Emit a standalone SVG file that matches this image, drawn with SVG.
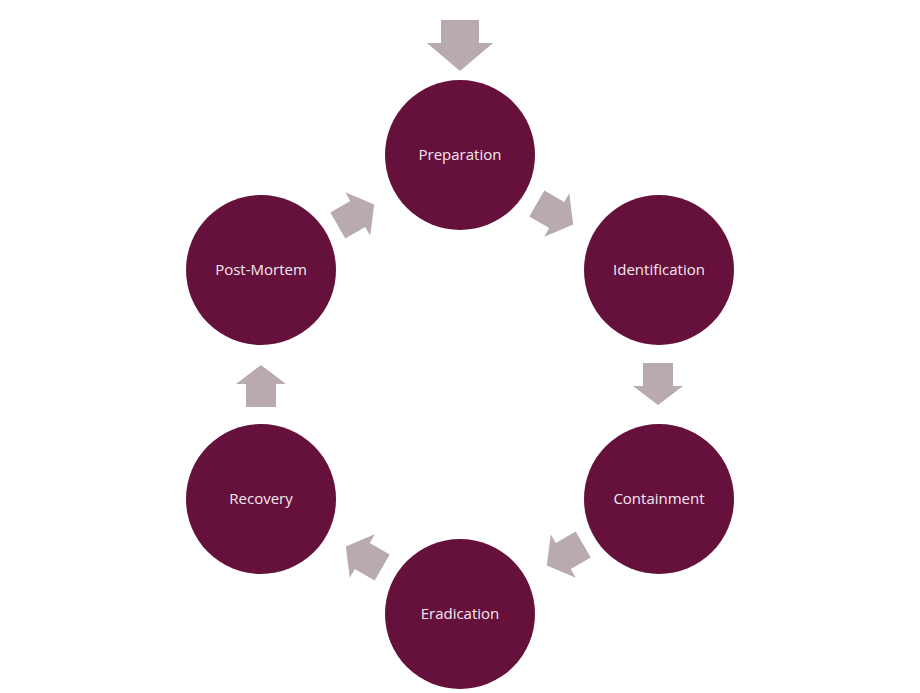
<svg xmlns="http://www.w3.org/2000/svg" width="920" height="693" viewBox="0 0 920 693">
<style>
.n{fill:#66103C}
.t{font-family:"Open Sans","Liberation Sans",sans-serif;font-size:15px;fill:#F5E9F0;text-anchor:middle;dominant-baseline:central}
.a{fill:#B9A9B1}
</style>
<defs>
<polygon id="arr" points="-21,-15 2,-15 2,-25 21,0 2,25 2,15 -21,15"/>
</defs>
<rect width="920" height="693" fill="#FFFFFF"/>
<g id="connectors" class="a">
<polygon points="441,20 479,20 479,43 493,43 460,71 427,43 441,43"/>
<use href="#arr" transform="translate(555,214) rotate(30)"/>
<use href="#arr" transform="translate(658,384) rotate(90)"/>
<use href="#arr" transform="translate(565,555) rotate(150)"/>
<use href="#arr" transform="translate(364,557) rotate(210)"/>
<use href="#arr" transform="translate(261,386) rotate(-90)"/>
<use href="#arr" transform="translate(356,215) rotate(-30)"/>
</g>
<g id="preparation"><circle class="n" cx="460" cy="155" r="75"/><text class="t" x="460" y="154">Preparation</text></g>
<g id="identification"><circle class="n" cx="659" cy="270" r="75"/><text class="t" x="659" y="269">Identification</text></g>
<g id="containment"><circle class="n" cx="659" cy="499" r="75"/><text class="t" x="659" y="498">Containment</text></g>
<g id="eradication"><circle class="n" cx="460" cy="614" r="75"/><text class="t" x="460" y="613">Eradication</text></g>
<g id="recovery"><circle class="n" cx="261" cy="499" r="75"/><text class="t" x="261" y="498">Recovery</text></g>
<g id="post-mortem"><circle class="n" cx="261" cy="270" r="75"/><text class="t" x="261" y="269">Post-Mortem</text></g>
</svg>
